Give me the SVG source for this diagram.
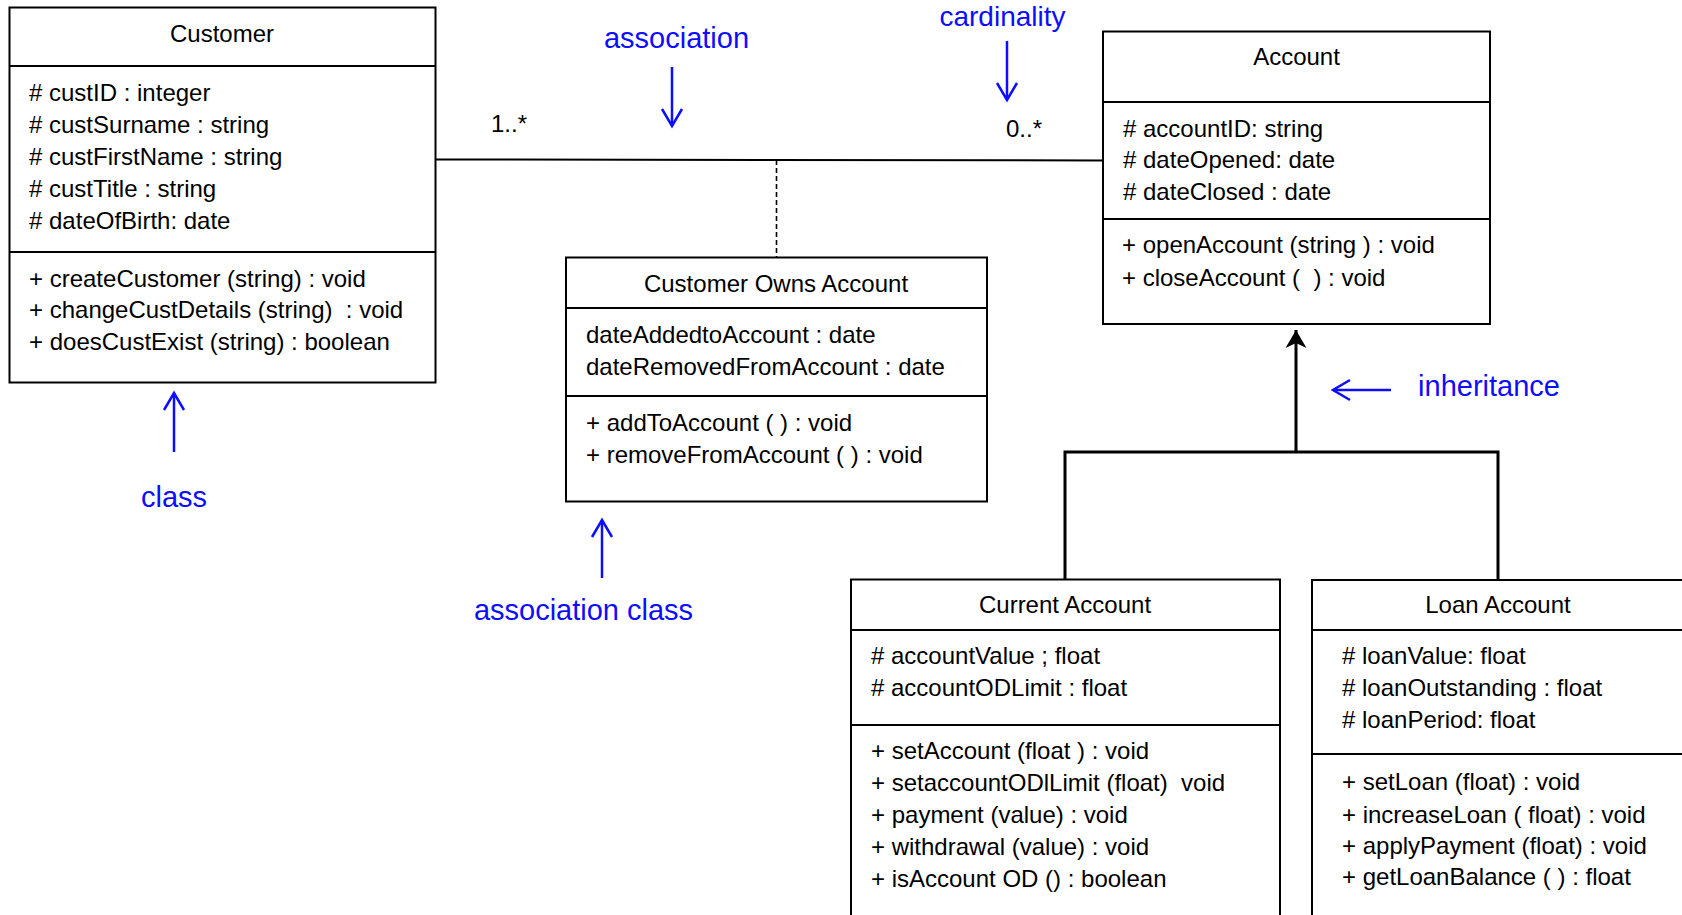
<svg xmlns="http://www.w3.org/2000/svg" width="1682" height="915" viewBox="0 0 1682 915">
  <defs>
    <style>
      .box { fill: #ffffff; stroke: #000000; stroke-width: 2; }
      .sep { stroke: #000000; stroke-width: 2; fill: none; }
      .t { font-family: "Liberation Sans", Arial, sans-serif; font-size: 24px; fill: #000000; }
      .title { text-anchor: middle; }
      .note { font-family: "Liberation Sans", Arial, sans-serif; font-size: 29px; fill: #0d0dff; text-anchor: middle; }
      .pointer { stroke: #0d0dff; stroke-width: 2.5; fill: none; marker-end: url(#openHead); }
      .assoc { stroke: #000000; stroke-width: 2; fill: none; }
      .link { stroke: #000000; stroke-width: 1.6; stroke-dasharray: 5 3; fill: none; }
      .gen { stroke: #000000; stroke-width: 3; fill: none; }
    </style>
    <!-- open V head for the blue callout arrows -->
    <marker id="openHead" markerUnits="userSpaceOnUse" markerWidth="40" markerHeight="40" viewBox="-20 -20 40 40" refX="0" refY="0" orient="auto">
      <path d="M-17,-10 L0,0 L-17,10" fill="none" stroke="#0d0dff" stroke-width="2.5"/>
    </marker>
    <!-- filled notched head for the generalisation line -->
    <marker id="genHead" markerUnits="userSpaceOnUse" markerWidth="40" markerHeight="40" viewBox="-20 -20 40 40" refX="0" refY="0" orient="auto">
      <path d="M0,0 L-18,-10.5 L-13,0 L-18,10.5 Z" fill="#000000"/>
    </marker>
  </defs>

  <rect x="0" y="0" width="1682" height="915" fill="#ffffff"/>

  <!-- connectors -->
  <g id="connectors">
    <line class="assoc" x1="436" y1="159.5" x2="1103" y2="160.5"/>
    <line class="link" x1="776.5" y1="160" x2="776.5" y2="257"/>
    <path class="gen" d="M1065,579 V452 H1498 V579"/>
    <path class="gen" d="M1296,452 V330" marker-end="url(#genHead)"/>
  </g>

  <!-- multiplicities -->
  <g id="multiplicities" class="t">
    <text x="491" y="132">1..*</text>
    <text x="1006" y="137">0..*</text>
  </g>

  <!-- Customer -->
  <g id="customer">
    <rect class="box" x="9.5" y="7.5" width="426" height="375"/>
    <line class="sep" x1="9.5" y1="66" x2="435.5" y2="66"/>
    <line class="sep" x1="9.5" y1="252" x2="435.5" y2="252"/>
    <text class="t title" x="222" y="42">Customer</text>
    <text class="t" x="29" y="101"># custID : integer</text>
    <text class="t" x="29" y="133"># custSurname : string</text>
    <text class="t" x="29" y="165"># custFirstName : string</text>
    <text class="t" x="29" y="197"># custTitle : string</text>
    <text class="t" x="29" y="229"># dateOfBirth: date</text>
    <text class="t" x="29" y="287">+ createCustomer (string) : void</text>
    <text class="t" x="29" y="318" xml:space="preserve">+ changeCustDetails (string)  : void</text>
    <text class="t" x="29" y="350">+ doesCustExist (string) : boolean</text>
  </g>

  <!-- Account -->
  <g id="account">
    <rect class="box" x="1103" y="31.5" width="387" height="292.5"/>
    <line class="sep" x1="1103" y1="102" x2="1490" y2="102"/>
    <line class="sep" x1="1103" y1="219" x2="1490" y2="219"/>
    <text class="t title" x="1296.5" y="65">Account</text>
    <text class="t" x="1123" y="137"># accountID: string</text>
    <text class="t" x="1123" y="168"># dateOpened: date</text>
    <text class="t" x="1123" y="200"># dateClosed : date</text>
    <text class="t" x="1122" y="253">+ openAccount (string ) : void</text>
    <text class="t" x="1122" y="286" xml:space="preserve">+ closeAccount (  ) : void</text>
  </g>

  <!-- Customer Owns Account (association class) -->
  <g id="customer-owns-account">
    <rect class="box" x="566" y="257.5" width="421" height="244"/>
    <line class="sep" x1="566" y1="308" x2="987" y2="308"/>
    <line class="sep" x1="566" y1="396" x2="987" y2="396"/>
    <text class="t title" x="776" y="292">Customer Owns Account</text>
    <text class="t" x="586" y="343">dateAddedtoAccount : date</text>
    <text class="t" x="586" y="375">dateRemovedFromAccount : date</text>
    <text class="t" x="586" y="431">+ addToAccount ( ) : void</text>
    <text class="t" x="586" y="463">+ removeFromAccount ( ) : void</text>
  </g>

  <!-- Current Account -->
  <g id="current-account">
    <rect class="box" x="851" y="579.5" width="429" height="360"/>
    <line class="sep" x1="851" y1="630" x2="1280" y2="630"/>
    <line class="sep" x1="851" y1="725" x2="1280" y2="725"/>
    <text class="t title" x="1065" y="613">Current Account</text>
    <text class="t" x="871" y="664"># accountValue ; float</text>
    <text class="t" x="871" y="696"># accountODLimit : float</text>
    <text class="t" x="871" y="759">+ setAccount (float ) : void</text>
    <text class="t" x="871" y="791" xml:space="preserve">+ setaccountODlLimit (float)  void</text>
    <text class="t" x="871" y="823">+ payment (value) : void</text>
    <text class="t" x="871" y="855">+ withdrawal (value) : void</text>
    <text class="t" x="871" y="887">+ isAccount OD () : boolean</text>
  </g>

  <!-- Loan Account -->
  <g id="loan-account">
    <rect class="box" x="1312" y="580" width="380" height="360"/>
    <line class="sep" x1="1312" y1="630" x2="1692" y2="630"/>
    <line class="sep" x1="1312" y1="754" x2="1692" y2="754"/>
    <text class="t title" x="1498" y="613">Loan Account</text>
    <text class="t" x="1342" y="664"># loanValue: float</text>
    <text class="t" x="1342" y="696"># loanOutstanding : float</text>
    <text class="t" x="1342" y="728"># loanPeriod: float</text>
    <text class="t" x="1342" y="790">+ setLoan (float) : void</text>
    <text class="t" x="1342" y="823">+ increaseLoan ( float) : void</text>
    <text class="t" x="1342" y="854">+ applyPayment (float) : void</text>
    <text class="t" x="1342" y="885">+ getLoanBalance ( ) : float</text>
  </g>

  <!-- blue callouts -->
  <g id="callouts">
    <text class="note" x="1002.5" y="26" style="font-size:28px">cardinality</text>
    <line class="pointer" x1="1007" y1="41" x2="1007" y2="100"/>
    <text class="note" x="676.5" y="48">association</text>
    <line class="pointer" x1="672" y1="67" x2="672" y2="126"/>
    <text class="note" x="1489" y="396">inheritance</text>
    <line class="pointer" x1="1391" y1="390" x2="1333" y2="390"/>
    <text class="note" x="174" y="507">class</text>
    <line class="pointer" x1="174" y1="452" x2="174" y2="393"/>
    <text class="note" x="583.5" y="620">association class</text>
    <line class="pointer" x1="602" y1="578" x2="602" y2="520"/>
  </g>
</svg>
